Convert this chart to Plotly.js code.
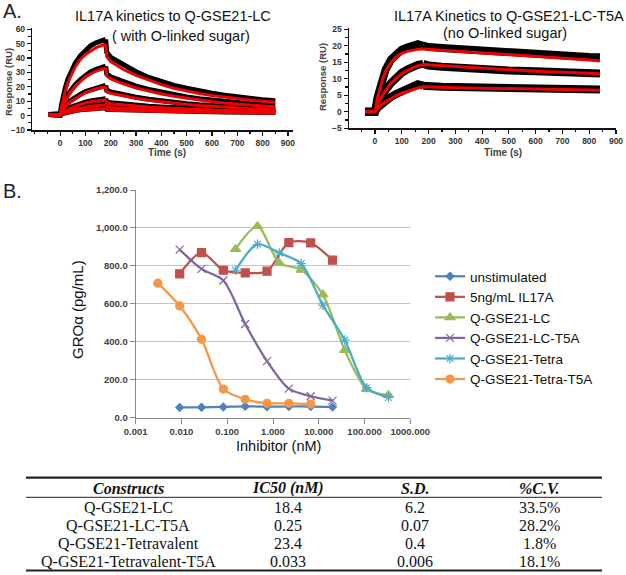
<!DOCTYPE html>
<html>
<head>
<meta charset="utf-8">
<script src="https://cdn.plot.ly/plotly-3.0.1.min.js"></script>
<style>html,body{margin:0;padding:0;background:#fff;}#chart{width:626px;height:575px;}</style>
</head>
<body>
<div id="chart"></div>
<script>
// ---------- Panel A (left): IL17A kinetics to Q-GSE21-LC ----------
const tAssocL = [-45,-20,0,5,10,20,30,40,60,80,100,120,140,160,180];
const tDissL  = [180,184,200,250,300,350,400,450,500,550,600,650,700,750,800,850];
const fitL1a = [0.5,0.5,0.5,6,10,17,22.5,27,34,39,42.5,45,47,48.5,49.6];
const fitL1d = [49.6,41,37.5,32,28,24.5,21.5,19,17,15.3,14,12.8,11.8,10.8,10,9.3];
const fitL2a = [0.5,0.5,0.5,3.5,6,10,13.2,16,20.5,24,27,29,30.8,32,33];
const fitL2d = [33,27.5,25.5,22,19.2,17,15,13.4,12,10.8,9.7,8.8,8,7.3,6.7,6.2];
const fitL3a = [0.5,0.5,0.5,2.2,3.5,6,8,9.5,12,14,16,17.3,18.5,19.3,20];
const fitL3d = [20,16.5,15.5,13.6,12,10.7,9.6,8.6,7.8,7,6.4,5.8,5.3,4.8,4.4,4];
const fitL4a = [0.5,0.5,0.5,1.4,2,3.2,4.2,5,6.5,7.8,8.8,9.6,10.2,10.7,11];
const fitL4d = [11,8.8,8.3,7.4,6.7,6,5.5,5,4.6,4.2,3.9,3.6,3.3,3.1,2.9,2.7];
const fitL5a = [0.5,0.5,0.5,1,1.4,2.2,2.9,3.5,4.5,5.3,6,6.5,6.9,7.2,7.5];
const fitL5d = [7.5,6,5.7,5.2,4.8,4.4,4.1,3.8,3.5,3.3,3.1,2.9,2.7,2.5,2.4,2.3];
const fitL6a = [0.5,0.5,0.5,0.8,1.1,1.6,2.1,2.5,3.1,3.6,4,4.3,4.6,4.8,5];
const fitL6d = [5,4,3.8,3.5,3.3,3.1,2.9,2.7,2.5,2.4,2.2,2.1,2,1.9,1.8,1.7];

const datL1a = [0.8,0.8,0.5,7,12,19,25,29.5,36.5,41.5,45.5,48.5,50.5,52,53];
const datL1d = [53,44,40.5,35,30.5,26.5,23.5,21,19,17,15.5,14.2,13,12,11,10.3];
const datL2a = [0.8,0.8,0.5,4,7,11,14.5,17,21.5,25,28,30.3,32,33.3,34.3];
const datL2d = [34.3,29,27,23.5,20.5,18.2,16.2,14.5,13,11.8,10.7,9.7,8.9,8.2,7.5,7];
const datL3a = [0.8,0.8,0.5,2.8,4.2,6.8,8.8,10.3,12.8,14.8,16.7,18,19.2,20.2,21];
const datL3d = [21,17.5,16.5,14.5,12.8,11.4,10.2,9.2,8.3,7.5,6.8,6.2,5.7,5.2,4.8,4.4];
const datL4a = [0.8,0.8,0.5,1.8,2.6,3.8,4.8,5.7,7.2,8.5,9.4,10.2,10.9,11.4,11.8];
const datL4d = [11.8,9.5,9,8,7.2,6.5,6,5.5,5,4.6,4.3,4,3.7,3.4,3.2,3];
const datL5a = [0.8,0.8,0.5,1.3,1.8,2.6,3.3,3.9,4.9,5.7,6.4,6.9,7.3,7.6,7.9];
const datL5d = [7.9,6.4,6.1,5.6,5.2,4.8,4.5,4.2,3.9,3.7,3.5,3.3,3.1,2.9,2.8,2.7];
const datL6a = [0.8,0.8,0.5,1.1,1.4,2,2.5,2.9,3.5,4,4.4,4.7,5,5.2,5.4];
const datL6d = [5.4,4.4,4.2,3.9,3.7,3.5,3.3,3.1,2.9,2.8,2.6,2.5,2.4,2.3,2.2,2.1];

// ---------- Panel A (right): IL17A Kinetics to Q-GSE21-LC-T5A ----------
const tAssocR = [-37,-20,0,10,20,30,40,60,80,100,120,140,160,180];
const tDissR  = [180,200,250,300,400,500,600,700,800,840];
const fitR1a = [0,0,0,4.5,7.8,10.3,12.3,15,16.7,17.7,18.3,18.7,18.9,19];
const fitR1d = [19,18.9,18.6,18.3,17.7,17.2,16.7,16.2,15.7,15.4];
const fitR2a = [0,0,0,2,3.8,5.2,6.5,8.6,10.2,11.5,12.5,13.3,13.9,14.3];
const fitR2d = [14.3,14.2,13.9,13.6,13.1,12.7,12.3,12,11.7,11.5];
const fitR3a = [0,0,0,1,1.8,2.4,3,4,4.9,5.6,6.2,6.8,7.2,7.6];
const fitR3d = [7.6,7.5,7.4,7.3,7.1,6.9,6.8,6.7,6.6,6.5];
const datR1a = [0,0,0,4.5,8,10.8,12.8,15.8,17.6,18.8,19.5,19.9,20.5,20];
const datR1d = [20,19.6,19.3,19,18.4,17.8,17.4,17,16.6,16.5];
const datR2a = [0,0,0,2,3.8,5.3,6.6,8.7,10.4,11.8,12.8,13.6,14.2,14.5];
const datR2d = [14.5,14,13.6,13.3,13,12.5,12.3,12,11.6,11.6];
const datR3a = [0,0,0,1.2,2,2.7,3.4,4.5,5.4,6.2,6.9,7.5,8.3,7.9];
const datR3d = [7.9,7.7,7.6,7.5,7.3,7.1,7,6.9,6.8,6.7];
const timeTicks = [0,100,200,300,400,500,600,700,800,900];

// ---------- Panel B: GROa vs inhibitor ----------
const xLow      = [0.00914,0.0274,0.0823,0.247,0.741,2.22,6.67,20];
const xTetraT5A = [0.00305,0.00914,0.0274,0.0823,0.247,0.741,2.22,6.67];
const xHigh     = [0.152,0.457,1.37,4.12,12.3,37.0,111,333];
const unstim    = [54,55,57,60,58,59,59,57];
const il17a     = [758,870,777,763,772,923,921,830];
const qLC       = [888,1009,816,779,649,356,151,119];
const qLCT5A    = [886,784,723,494,298,153,113,90];
const qTetra    = [777,914,868,812,593,409,158,107];
const qTetraT5A = [709,589,414,151,97,76,76,72];
const seriesNames = ['unstimulated','5ng/mL IL17A','Q-GSE21-LC','Q-GSE21-LC-T5A','Q-GSE21-Tetra','Q-GSE21-Tetra-T5A'];
const bTickVals = [0.001,0.01,0.1,1,10,100,1000];
const bTickText = ['0.001','0.010','0.100','1.000','10.000','100.000','1000.000'];

// ---------- Table ----------
const tblHeaders   = ['Constructs','IC50 (nM)','S.D.','%C.V.'];
const tblConstruct = ['Q-GSE21-LC','Q-GSE21-LC-T5A','Q-GSE21-Tetravalent','Q-GSE21-Tetravalent-T5A'];
const tblIC50      = ['18.4','0.25','23.4','0.033'];
const tblSD        = ['6.2','0.07','0.4','0.006'];
const tblCV        = ['33.5%','28.2%','1.8%','18.1%'];

// ---------- build ----------
const W = 626, H = 575;
const px = v => v / W;
const py = v => 1 - v / H;
const traces = [];
function sg(x, y, xa, ya, color, width) {
  traces.push({x, y, xaxis: xa, yaxis: ya, mode: 'lines', type: 'scatter',
    line: {color, width, shape: 'linear'}, showlegend: false, hoverinfo: 'skip'});
}
const datL = [[datL1a,datL1d],[datL2a,datL2d],[datL3a,datL3d],[datL4a,datL4d],[datL5a,datL5d],[datL6a,datL6d]];
const fitL = [[fitL1a,fitL1d],[fitL2a,fitL2d],[fitL3a,fitL3d],[fitL4a,fitL4d],[fitL5a,fitL5d],[fitL6a,fitL6d]];
datL.forEach(d => { sg(tAssocL, d[0], 'x', 'y', '#000', 5); sg(tDissL, d[1], 'x', 'y', '#000', 5); });
fitL.forEach(d => { sg(tAssocL, d[0], 'x', 'y', '#ee0000', 3); sg(tDissL, d[1], 'x', 'y', '#ee0000', 3); });
const datR = [[datR1a,datR1d],[datR2a,datR2d],[datR3a,datR3d]];
const fitR = [[fitR1a,fitR1d],[fitR2a,fitR2d],[fitR3a,fitR3d]];
datR.forEach(d => { sg(tAssocR, d[0], 'x2', 'y2', '#000', 8); sg(tDissR, d[1], 'x2', 'y2', '#000', 8); });
fitR.forEach(d => { sg(tAssocR, d[0], 'x2', 'y2', '#ee0000', 3); sg(tDissR, d[1], 'x2', 'y2', '#ee0000', 3); });

const bSeries = [
  {x: xLow, y: unstim, c: '#4F81BD', sym: 'diamond', s: 6},
  {x: xLow, y: il17a, c: '#C0504D', sym: 'square', s: 8},
  {x: xHigh, y: qLC, c: '#9BBB59', sym: 'triangle-up', s: 9},
  {x: xLow, y: qLCT5A, c: '#8064A2', sym: 'x-thin-open', s: 8},
  {x: xHigh, y: qTetra, c: '#4BACC6', sym: 'asterisk-open', s: 8},
  {x: xTetraT5A, y: qTetraT5A, c: '#F79646', sym: 'circle', s: 8}
];
bSeries.forEach((s, i) => {
  traces.push({x: s.x, y: s.y, xaxis: 'x3', yaxis: 'y3', type: 'scatter', mode: 'lines+markers',
    name: seriesNames[i], line: {color: s.c, width: 2.25, shape: 'spline', smoothing: 0.8},
    marker: {symbol: s.sym, size: s.s, color: s.c, line: {color: s.c, width: 1.2}}});
});

const aTick = {family: 'Arial', size: 8.5, color: '#333', weight: 'bold'};
const axA = {showgrid: false, zeroline: false, showline: true, linecolor: '#111', linewidth: 1.5,
  ticks: 'outside', ticklen: 4, tickwidth: 1.2, tickcolor: '#111', tickfont: aTick};

const layout = {
  width: W, height: H, margin: {l: 0, r: 0, t: 0, b: 0},
  paper_bgcolor: '#fff', plot_bgcolor: '#fff',
  xaxis: Object.assign({}, axA, {domain: [px(32.3), px(293)], range: [-110, 920], tickvals: timeTicks,
    minor: {ticks: 'outside', ticklen: 2.5, dtick: 50, tickcolor: '#111'}, anchor: 'y'}),
  yaxis: Object.assign({}, axA, {domain: [py(130), py(27.8)], range: [-10, 61], tick0: 0, dtick: 10,
    minor: {ticks: 'outside', ticklen: 2.5, dtick: 5, tickcolor: '#111'}, anchor: 'x'}),
  xaxis2: Object.assign({}, axA, {domain: [px(349), px(616)], range: [-97, 900], tickvals: timeTicks,
    minor: {ticks: 'outside', ticklen: 2.5, dtick: 50, tickcolor: '#111'}, anchor: 'y2'}),
  yaxis2: Object.assign({}, axA, {domain: [py(128.2), py(27.6)], range: [-5, 25.5], tick0: 0, dtick: 5,
    minor: {ticks: 'outside', ticklen: 2.5, dtick: 2.5, tickcolor: '#111'}, anchor: 'x2'}),
  xaxis3: {domain: [px(135.7), px(410.3)], type: 'log', range: [-3, 3], tickvals: bTickVals, ticktext: bTickText,
    showgrid: false, zeroline: false, showline: true, linecolor: '#8c8c8c', linewidth: 1,
    ticks: 'outside', ticklen: 5, tickcolor: '#8c8c8c', anchor: 'y3',
    tickfont: {family: 'Arial', size: 9.5, color: '#404040', weight: 'bold'}},
  yaxis3: {domain: [py(417.7), py(190)], range: [0, 1200], dtick: 200, tickformat: ',.1f',
    showgrid: true, gridcolor: '#c4c4c4', gridwidth: 1, zeroline: false, showline: true,
    linecolor: '#8c8c8c', linewidth: 1, ticks: 'outside', ticklen: 5, tickcolor: '#8c8c8c', anchor: 'x3',
    tickfont: {family: 'Arial', size: 9.5, color: '#404040', weight: 'bold'}},
  showlegend: true,
  legend: {x: px(430), y: py(261), xanchor: 'left', yanchor: 'top', bgcolor: 'rgba(0,0,0,0)',
    font: {family: 'Arial', size: 13.5, color: '#111'}, itemwidth: 30, tracegroupgap: 0},
  annotations: [],
  shapes: []
};

function ann(text, x, y, size, opts) {
  layout.annotations.push(Object.assign({text, x: px(x), y: py(y), xref: 'paper', yref: 'paper',
    showarrow: false, xanchor: 'center', yanchor: 'middle',
    font: {family: 'Arial', size, color: '#111'}}, opts || {}));
}
ann('A.', 1, 11, 20, {xanchor: 'left', font: {family: 'Arial', size: 20, color: '#222'}});
ann('B.', 1, 191, 20, {xanchor: 'left', font: {family: 'Arial', size: 20, color: '#222'}});
ann('IL17A kinetics to Q-GSE21-LC', 173, 16, 14.5);
ann('( with O-linked sugar)', 181, 36, 14.5);
ann('IL17A Kinetics to Q-GSE21-LC-T5A', 509, 16.5, 14.5);
ann('(no O-linked sugar)', 505, 33.5, 14.5);
ann('Response (RU)', 8, 82, 9.5, {textangle: -90, font: {family: 'Arial', size: 9.5, color: '#444', weight: 'bold'}});
ann('Time (s)', 167, 152.5, 10, {font: {family: 'Arial', size: 10, color: '#444', weight: 'bold'}});
ann('Response (RU)', 323, 77, 9.5, {textangle: -90, font: {family: 'Arial', size: 9.5, color: '#444', weight: 'bold'}});
ann('Time (s)', 503, 152.5, 10, {font: {family: 'Arial', size: 10, color: '#444', weight: 'bold'}});
ann('GROα (pg/mL)', 77, 310, 15, {textangle: -90});
ann('Inhibitor (nM)', 278, 446, 14.5);

// table
const colX = [128, 288, 415, 539];
const rowY = [507, 525, 543, 561];
const serif = {family: 'Liberation Serif', size: 16, color: '#111'};
tblHeaders.forEach((h, i) => ann('<b><i>' + h + '</i></b>', colX[i], 488, 16, {font: serif}));
const cols = [tblConstruct, tblIC50, tblSD, tblCV];
cols.forEach((col, ci) => col.forEach((v, ri) => ann(v, colX[ci], rowY[ri], 16, {font: serif})));
function hline(y, w) {
  layout.shapes.push({type: 'line', xref: 'paper', yref: 'paper', x0: px(26), x1: px(602), y0: py(y), y1: py(y),
    line: {color: '#222', width: w}});
}
hline(477.7, 2.2);
hline(497.3, 1);
hline(570.5, 2.2);

Plotly.newPlot('chart', traces, layout, {staticPlot: true, displayModeBar: false});
</script>
</body>
</html>
